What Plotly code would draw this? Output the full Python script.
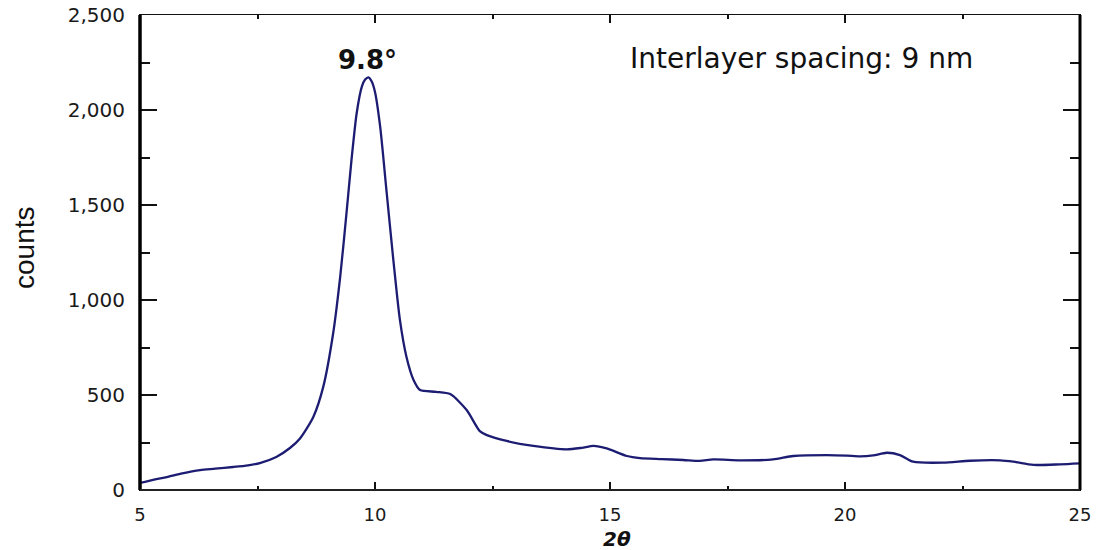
import plotly.graph_objects as go

two_theta = [5.0, 5.3, 5.57, 5.9, 6.28, 6.6, 6.98, 7.3, 7.55, 7.9, 8.19, 8.4, 8.69, 8.9,
             9.11, 9.26, 9.4, 9.5, 9.61, 9.72, 9.79, 9.86, 9.93, 10.0, 10.11, 10.25,
             10.39, 10.53, 10.67, 10.82, 10.96, 11.3, 11.6, 11.95, 12.23, 12.38, 12.8,
             13.37, 14.08, 14.4, 14.65, 14.93, 15.36, 15.64, 16.1, 16.56, 16.91, 17.2,
             17.77, 18.47, 18.9, 19.61, 20.04, 20.32, 20.6, 20.89, 21.17, 21.45, 22.09,
             22.66, 23.3, 23.58, 24.01, 24.57, 25.0]
counts = [37, 55, 68, 88, 105, 112, 121, 130, 142, 174, 221, 270, 386, 544,
          825, 1123, 1474, 1737, 1983, 2123, 2160, 2172, 2150, 2095, 1912, 1561,
          1211, 895, 700, 579, 526, 517, 505, 421, 310, 289, 258,
          232, 214, 222, 232, 219, 179, 168, 163, 158, 153, 161,
          156, 161, 179, 184, 181, 177, 182, 196, 184, 149, 144,
          154, 156, 149, 132, 135, 140]

y_ticks = [0, 500, 1000, 1500, 2000, 2500]
x_ticks = [5, 10, 15, 20, 25]
peak_label = "9.8°"
info_label = "Interlayer spacing: 9 nm"

FONT = "DejaVu Sans"
L, R, T, B = 140, 1080, 15, 490
W, H = R - L, B - T

def px_x(p):
    return (p - L) / W

def px_y(p):
    return (B - p) / H

fig = go.Figure()
fig.add_trace(go.Scatter(
    x=two_theta, y=counts, mode="lines",
    line=dict(color="#1c1c72", width=2.3, shape="spline", smoothing=0.7),
    showlegend=False, hoverinfo="skip"))

fig.update_layout(
    width=1101, height=550,
    margin=dict(l=L, r=1101 - R, t=T, b=550 - B, autoexpand=False),
    paper_bgcolor="white", plot_bgcolor="white",
    font=dict(family=FONT, color="#1a1a1a"),
    xaxis=dict(range=[5, 25], tickvals=x_ticks, ticks="inside", ticklen=8,
               tickwidth=2, tickcolor="#111", showline=True, linecolor="#111",
               linewidth=1, mirror="ticks", showgrid=False, zeroline=False,
               automargin=False,
               tickfont=dict(family=FONT, size=18, color="#1a1a1a"),
               ticklabelstandoff=8,
               minor=dict(dtick=2.5, ticks="inside", ticklen=4, tickwidth=2,
                          tickcolor="#111", showgrid=False)),
    yaxis=dict(range=[0, 2500], tickvals=y_ticks, tickformat=",", ticks="inside",
               ticklen=17, tickwidth=1.5, tickcolor="#111", showline=True,
               linecolor="#111", linewidth=1, mirror="ticks", showgrid=False,
               zeroline=False, automargin=False,
               tickfont=dict(family=FONT, size=20, color="#1a1a1a"),
               ticklabelstandoff=10,
               minor=dict(dtick=250, ticks="inside", ticklen=10, tickwidth=1.5,
                          tickcolor="#111", showgrid=False)),
    separators=".,",
)

# heavier frame sides
fig.add_shape(type="line", xref="paper", yref="paper", x0=0, x1=0, y0=0, y1=1,
              line=dict(color="#000", width=3.5), layer="above")
fig.add_shape(type="line", xref="paper", yref="paper", x0=1, x1=1, y0=0, y1=1,
              line=dict(color="#000", width=3), layer="above")
fig.add_shape(type="line", xref="paper", yref="paper", x0=0, x1=1, y0=0, y1=0,
              line=dict(color="#222", width=2), layer="above")

fig.add_annotation(x=9.83, xref="x", y=px_y(60), yref="paper", text=peak_label,
                   showarrow=False,
                   font=dict(family=FONT, size=26, color="#111", weight="bold"),
                   xanchor="center", yanchor="middle")
fig.add_annotation(x=px_x(801), xref="paper", y=px_y(58), yref="paper",
                   text=info_label, showarrow=False,
                   font=dict(family=FONT, size=28, color="#111"),
                   xanchor="center", yanchor="middle")
fig.add_annotation(x=px_x(617), xref="paper", y=px_y(550), yref="paper",
                   text="<i>2θ</i>", showarrow=False,
                   font=dict(family=FONT, size=20, color="#111", weight="bold"),
                   xanchor="center", yanchor="bottom", yshift=-3)
fig.add_annotation(x=px_x(24), xref="paper", y=px_y(248), yref="paper",
                   text="counts", showarrow=False, textangle=-90,
                   font=dict(family="Liberation Sans Narrow, Liberation Sans", size=28, color="#111"),
                   xanchor="center", yanchor="middle")

fig.write_html("out.html")
